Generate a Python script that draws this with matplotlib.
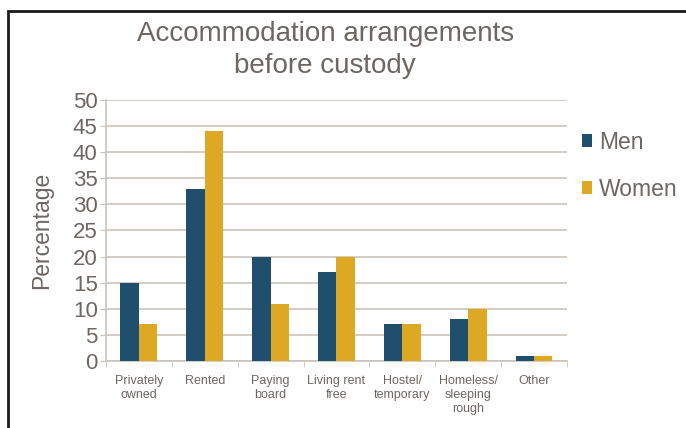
import numpy as np
import matplotlib.pyplot as plt
from matplotlib.patches import Rectangle

plt.rcParams['font.family'] = ['Liberation Sans', 'DejaVu Sans']

categories = ['Privately\nowned', 'Rented', 'Paying\nboard', 'Living rent\nfree',
              'Hostel/\ntemporary', 'Homeless/\nsleeping\nrough', 'Other']
men = [15, 33, 20, 17, 7, 8, 1]
women = [7, 44, 11, 20, 7, 10, 1]

men_color = '#1f4f6c'
women_color = '#dda823'
text_color = '#6e6663'
grid_color = '#cbc2bc'

fig = plt.figure(figsize=(6.86, 4.28), dpi=100)
ax = fig.add_axes([0.1545, 0.1565, 0.672, 0.61])

x = np.arange(len(categories))
w = 0.28
ax.bar(x - w / 2, men, w, color=men_color, label='Men', zorder=3)
ax.bar(x + w / 2, women, w, color=women_color, label='Women', zorder=3)

ax.set_xlim(-0.5, len(categories) - 0.5)
ax.set_ylim(0, 50)
ax.set_yticks(range(0, 51, 5))
ax.yaxis.grid(True, color=grid_color, linewidth=1.2, zorder=0)
ax.set_axisbelow(True)

for side in ['top', 'right']:
    ax.spines[side].set_visible(False)
ax.spines['left'].set_color(grid_color)
ax.spines['bottom'].set_color(grid_color)
ax.spines['left'].set_linewidth(1.2)
ax.spines['bottom'].set_linewidth(1.2)

ax.set_xticks(x)
ax.set_xticklabels(categories, fontsize=9, color=text_color, linespacing=1.25)
ax.tick_params(axis='x', length=0, pad=10)
ax.set_xticks(np.arange(-0.5, len(categories), 1), minor=True)
ax.tick_params(axis='x', which='minor', length=4, color=grid_color)
ax.tick_params(axis='y', length=4, color=grid_color, labelsize=16,
               labelcolor=text_color, pad=2)

ax.set_ylabel('Percentage', fontsize=16.5, color=text_color, labelpad=14)

fig.text(0.474, 0.884, 'Accommodation arrangements\nbefore custody', ha='center',
         va='center', fontsize=20, color=text_color, linespacing=1.3)

leg = fig.legend(loc='upper left', bbox_to_anchor=(0.848, 0.695), frameon=False,
                 fontsize=16.5, handlelength=0.45, handleheight=0.45,
                 handletextpad=0.3, labelspacing=1.05, borderpad=0,
                 borderaxespad=0)
for t in leg.get_texts():
    t.set_color(text_color)

# black frame around the figure
fig.patches.append(Rectangle((8 / 686, -0.1), 1.2, (428 - 11) / 428 + 0.1,
                             transform=fig.transFigure, fill=False,
                             edgecolor='#1a1a1a', linewidth=2))

fig.savefig('out.png', dpi=100)
